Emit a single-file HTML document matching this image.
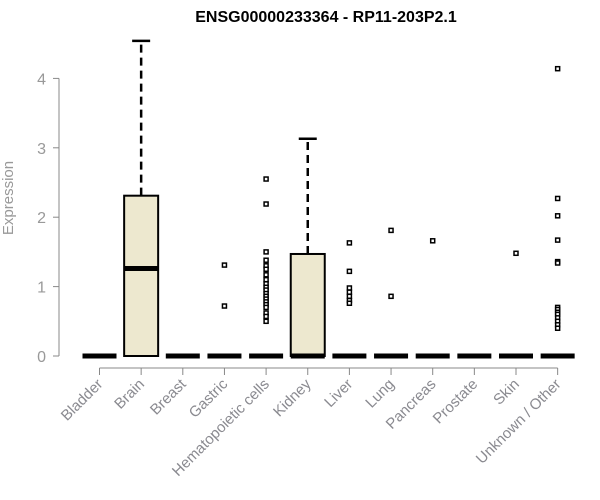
<!DOCTYPE html>
<html><head><meta charset="utf-8"><style>body{margin:0;background:#fff}svg{display:block}</style></head>
<body>
<svg id="chart" width="600" height="500" xmlns="http://www.w3.org/2000/svg" font-family="Liberation Sans, sans-serif">
<text x="326" y="22" text-anchor="middle" font-weight="bold" font-size="16">ENSG00000233364 - RP11-203P2.1</text>
<text transform="translate(13,198) rotate(-90)" text-anchor="middle" font-size="15" fill="#999">Expression</text>
<g id="g"></g>
</svg>
<script>
const categories=["Bladder","Brain","Breast","Gastric","Hematopoietic cells","Kidney","Liver","Lung","Pancreas","Prostate","Skin","Unknown / Other"];
const q1=[0,0,0,0,0,0,0,0,0,0,0,0];
const medians=[0,1.26,0,0,0,0,0,0,0,0,0,0];
const q3=[0,2.31,0,0,0,1.47,0,0,0,0,0,0];
const whiskerHi=[0,4.54,0,0,0,3.13,0,0,0,0,0,0];
const outliers=[[],[],[],[1.31,0.72],[2.55,2.19,1.5,1.38,1.3,1.25,1.17,1.1,1.04,0.99,0.95,0.9,0.86,0.82,0.78,0.74,0.7,0.62,0.57,0.5],[],[1.63,1.22,0.98,0.92,0.86,0.8,0.76],[1.81,0.86],[1.66],[],[1.48],[4.14,2.27,2.02,1.67,1.36,1.34,0.7,0.67,0.63,0.6,0.55,0.5,0.45,0.4]];
const yTicks=[0,1,2,3,4];
const NS="http://www.w3.org/2000/svg";
const g=document.getElementById('g');
const x=i=>99.5+i*41.65;
const y=v=>356-v*69.4;
function mk(t,a,p){const e=document.createElementNS(NS,t);for(const k in a)e.setAttribute(k,a[k]);(p||g).appendChild(e);return e;}
let ax=mk('line',{x1:59,x2:59,y1:y(4),y2:y(0),stroke:'#888'});


yTicks.forEach(v=>{
 let t=mk('line',{x1:53,x2:59,y1:y(v),y2:y(v),stroke:'#888'});
 
 
 let l=mk('text',{x:46,y:y(v)+6,'text-anchor':'end','font-size':16,fill:'#999'});l.textContent=v;
 
 
});
let xa=mk('line',{x1:x(0),x2:x(11),y1:368,y2:368,stroke:'#888'});


const hw=17;
categories.forEach((c,i)=>{
 const cx=x(i);
 let t=mk('line',{x1:cx,x2:cx,y1:368,y2:375,stroke:'#888'});
 
 
 let l=mk('text',{transform:`translate(${cx+4},${385}) rotate(-45)`,'text-anchor':'end','font-size':15,fill:'#8a8a90'});l.textContent=c;
 
 
 const grp=mk('g',{});
 
 
 if(whiskerHi[i]>q3[i]){
  mk('line',{x1:cx,x2:cx,y1:y(q3[i]),y2:y(whiskerHi[i]),stroke:'#000','stroke-width':2.5,'stroke-dasharray':'8,5'},grp);
  mk('line',{x1:cx-9,x2:cx+9,y1:y(whiskerHi[i]),y2:y(whiskerHi[i]),stroke:'#000','stroke-width':2.5},grp);
 }
 if(q3[i]>q1[i]) mk('rect',{x:cx-hw,y:y(q3[i]),width:2*hw,height:y(q1[i])-y(q3[i]),fill:'#ede8cf',stroke:'#000','stroke-width':2},grp);
 mk('line',{x1:cx-hw,x2:cx+hw,y1:y(medians[i]),y2:y(medians[i]),stroke:'#000','stroke-width':5},grp);
 outliers[i].forEach(v=>{
  let p=mk('rect',{x:cx-2,y:y(v)-2,width:4,height:4,fill:'#fff',stroke:'#000','stroke-width':1.5});
  
  
 });
});
</script>
</body></html>
